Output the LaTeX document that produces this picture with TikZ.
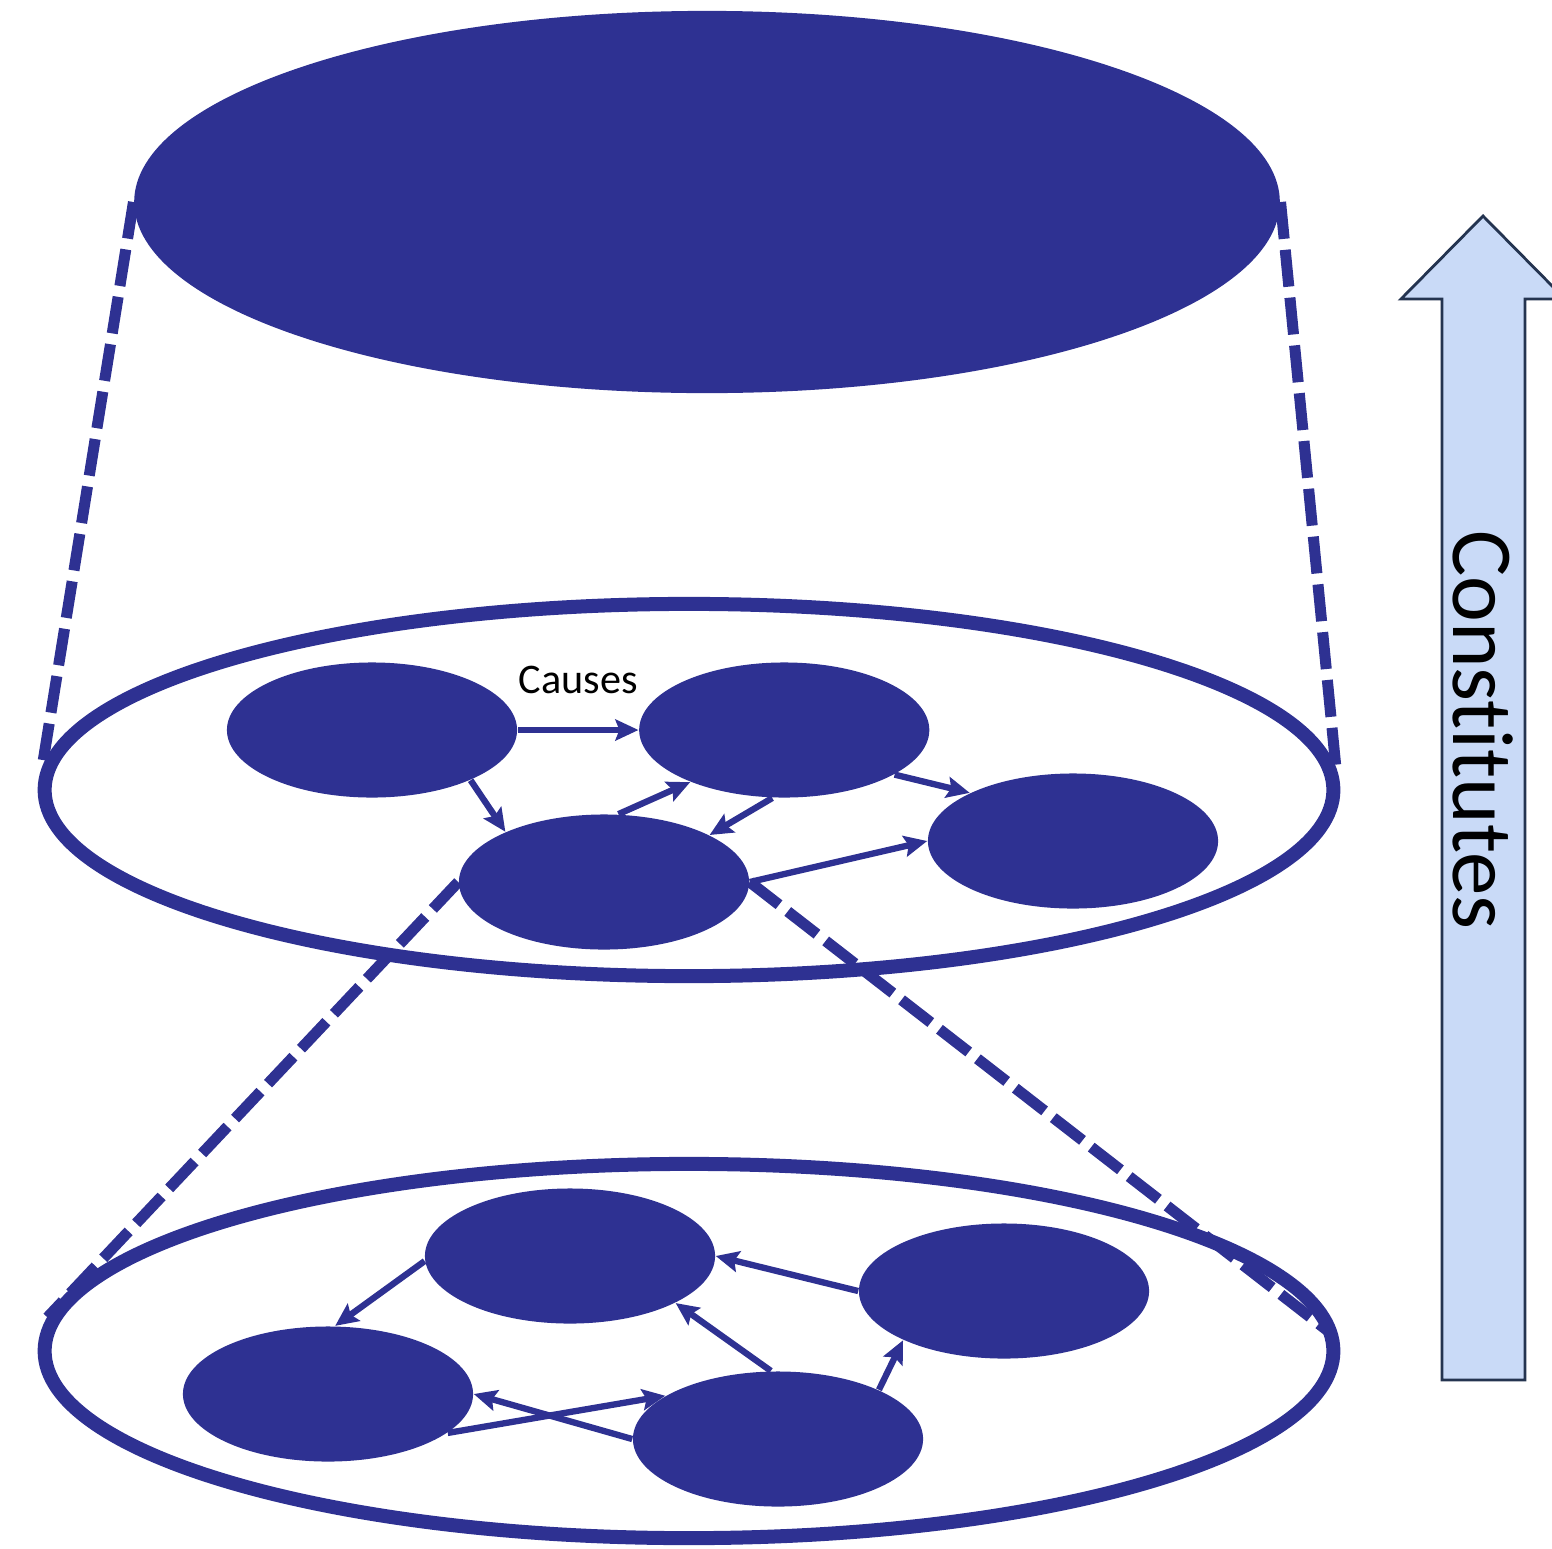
\documentclass[tikz,border=0pt]{standalone}
\usepackage{fontspec}
\setmainfont{Carlito}[Ligatures={NoCommon,NoContextual}]
\usepackage{tikz}
\usetikzlibrary{arrows.meta, shapes.geometric}

\definecolor{blobblue}{RGB}{46,49,146}
\definecolor{arrowfill}{RGB}{201,218,247}
\definecolor{arrowline}{RGB}{36,52,80}

\begin{document}
\begin{tikzpicture}[x=0.01cm, y=-0.01cm, node distance=4.12cm,
  >={Stealth[length=0.23cm,width=0.21cm,inset=0.04cm]},
  blob/.style={ellipse, fill=blobblue, inner sep=0pt, minimum width=2.9cm, minimum height=1.35cm},
  ring/.style={ellipse, draw=blobblue, line width=0.14cm, inner sep=0pt, minimum width=12.88cm, minimum height=3.72cm},
  link/.style={->, color=blobblue, line width=1.8pt},
  zoomline/.style={draw=blobblue, line width=0.11cm, dash pattern=on 0.37cm off 0.11cm}]

\useasboundingbox (0,0) rectangle (1552,1548);
\clip (0,0) rectangle (1552,1548);

% define the levels
  \node[blob, minimum width=11.45cm, minimum height=3.82cm] (top) at (707,202) {};
  \node[ring] (mid) at (689,790) {};
  \node[ring, minimum height=3.74cm] (low) at (689,1351) {};

% define the states in the middle level
  \node[blob]   (m1) at (372,730) {};
  \node[blob]   (m2) [right of=m1] {};
  \node[blob]   (m3) at (604,882) {};
  \node[blob]   (m4) at (1073,841) {};

% define the states in the bottom level
  \node[blob]   (n1) at (570,1256) {};
  \node[blob]   (n2) at (1004,1291) {};
  \node[blob]   (n3) at (328,1394) {};
  \node[blob]   (n4) at (778,1439) {};

% define the links
  \path[link] (m1) edge node[above=0.21cm, black, font=\fontsize{12}{14}\selectfont] {Causes} (m2)
        (m1.-27) edge (m3.153)
        (m3.78)  edge (m2.-151)
        (m2.-100) edge (m3.24)
        (m2.-22) edge (m4.155)
        (m3.east) edge (m4.west);

  \path[link] (n1.182) edge (n3.84)
        (n2.west) edge (n1.east)
        (n4.96)  edge (n1.-24)
        (n4.26)  edge (n2.-154)
        (n3.-18) edge (n4.159)
        (n4.west) edge (n3.east);

% zoom lines between the levels
  \draw[zoomline] (top.west) -- (mid.178);
  \draw[zoomline] (top.east) -- (mid.2.5);
  \draw[zoomline] (m3.west) -- (low.177);
  \draw[zoomline, shorten >=0.14cm] (m3.east) -- (low.1);

% the big arrow
  \draw[draw=arrowline, fill=arrowfill, line width=0.8pt]
    (1442,1380) -- (1442,299) -- (1401,299) -- (1483,216) -- (1565,299)
    -- (1525,299) -- (1525,1380) -- cycle;
  \node[rotate=-90, font=\fontsize{24.7}{30}\selectfont] (lbl) at (1483,730) {Constitutes};

\end{tikzpicture}
\end{document}
